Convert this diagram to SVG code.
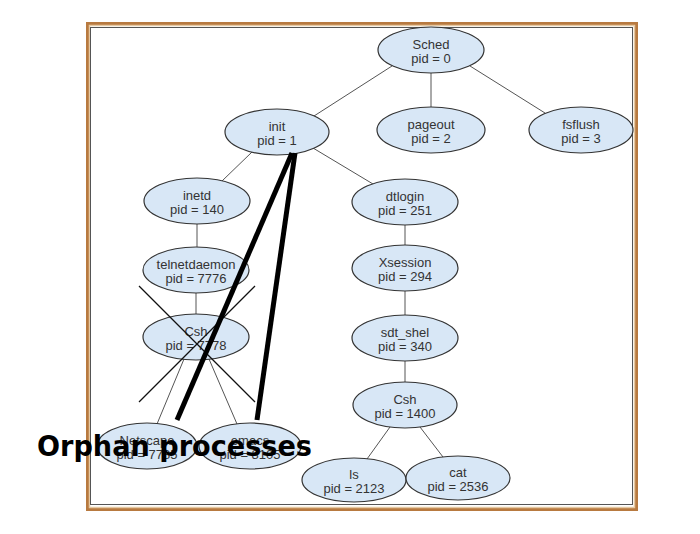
<svg xmlns="http://www.w3.org/2000/svg" width="700" height="534" viewBox="0 0 700 534">
<style>
.n ellipse{fill:#d8e7f6;stroke:#333;stroke-width:1.2}
.n text{font-family:"Liberation Sans",Arial,sans-serif;font-size:13px;fill:#333;text-anchor:middle}
#connectors line{stroke:#555;stroke-width:1}
.cross line{stroke:#111;stroke-width:1.3}
.thick line{stroke:#000;stroke-width:5;stroke-linecap:butt}
</style>
<rect width="700" height="534" fill="#fff"/>
<g id="frame" fill="none">
<rect x="87.5" y="23.5" width="549" height="486" stroke="#b87a40" stroke-width="3"/>
<rect x="89.5" y="25.5" width="545" height="482" stroke="#e6c9a2" stroke-width="1.5"/>
<rect x="90.5" y="27.5" width="542" height="477" stroke="#555" stroke-width="1"/>
</g>
<g id="connectors">
<line x1="392" y1="66" x2="314" y2="116"/>
<line x1="431" y1="73" x2="431" y2="107"/>
<line x1="470" y1="66" x2="545" y2="113"/>
<line x1="252" y1="152" x2="222" y2="181"/>
<line x1="313" y1="148" x2="373" y2="184"/>
<line x1="197" y1="224" x2="197" y2="247"/>
<line x1="196" y1="293" x2="196" y2="314"/>
<line x1="184" y1="359" x2="157" y2="424"/>
<line x1="209" y1="359" x2="237" y2="424"/>
<line x1="405" y1="225" x2="405" y2="245"/>
<line x1="405" y1="291" x2="405" y2="315"/>
<line x1="405" y1="361" x2="405" y2="382"/>
<line x1="390" y1="427" x2="367" y2="459"/>
<line x1="420" y1="427" x2="443" y2="457"/>
</g>
<g id="sched" class="n"><ellipse cx="431" cy="50" rx="53" ry="23"/><text x="431" y="49">Sched</text><text x="431" y="63">pid = 0</text></g>
<g id="init" class="n"><ellipse cx="277" cy="132" rx="52" ry="23"/><text x="277" y="131">init</text><text x="277" y="145">pid = 1</text></g>
<g id="pageout" class="n"><ellipse cx="431" cy="130" rx="54" ry="23"/><text x="431" y="129">pageout</text><text x="431" y="143">pid = 2</text></g>
<g id="fsflush" class="n"><ellipse cx="581" cy="130" rx="52" ry="23"/><text x="581" y="129">fsflush</text><text x="581" y="143">pid = 3</text></g>
<g id="inetd" class="n"><ellipse cx="197" cy="201" rx="53" ry="23"/><text x="197" y="200">inetd</text><text x="197" y="214">pid = 140</text></g>
<g id="dtlogin" class="n"><ellipse cx="405" cy="202" rx="53" ry="23"/><text x="405" y="201">dtlogin</text><text x="405" y="215">pid = 251</text></g>
<g id="telnetdaemon" class="n"><ellipse cx="196" cy="270" rx="53" ry="23"/><text x="196" y="269">telnetdaemon</text><text x="196" y="283">pid = 7776</text></g>
<g id="xsession" class="n"><ellipse cx="405" cy="268" rx="53" ry="23"/><text x="405" y="267">Xsession</text><text x="405" y="281">pid = 294</text></g>
<g id="csh7778" class="n"><ellipse cx="196" cy="337" rx="53" ry="23"/><text x="196" y="336">Csh</text><text x="196" y="350">pid = 7778</text></g>
<g id="sdt_shel" class="n"><ellipse cx="405" cy="338" rx="53" ry="23"/><text x="405" y="337">sdt_shel</text><text x="405" y="351">pid = 340</text></g>
<g id="csh1400" class="n"><ellipse cx="405" cy="405" rx="52" ry="23"/><text x="405" y="404">Csh</text><text x="405" y="418">pid = 1400</text></g>
<g id="netscape" class="n"><ellipse cx="147" cy="446" rx="50" ry="23"/><text x="147" y="445">Netscape</text><text x="147" y="459">pid = 7785</text></g>
<g id="emacs" class="n"><ellipse cx="250" cy="446" rx="51" ry="23"/><text x="250" y="445">emacs</text><text x="250" y="459">pid = 8105</text></g>
<g id="ls" class="n"><ellipse cx="354" cy="480" rx="52" ry="22"/><text x="354" y="479">ls</text><text x="354" y="493">pid = 2123</text></g>
<g id="cat" class="n"><ellipse cx="458" cy="478" rx="52" ry="22"/><text x="458" y="477">cat</text><text x="458" y="491">pid = 2536</text></g>
<g id="cross" class="cross">
<line x1="139" y1="286" x2="255" y2="402"/>
<line x1="255" y1="286" x2="139" y2="402"/>
</g>
<g id="orphan-lines" class="thick">
<line x1="292" y1="153" x2="177" y2="420"/>
<line x1="295" y1="153" x2="257" y2="420"/>
</g>
<text id="orphan-label" x="37" y="456" font-family="'DejaVu Sans',Verdana,sans-serif" font-weight="bold" font-size="28" textLength="275" lengthAdjust="spacingAndGlyphs" fill="#000">Orphan processes</text>
</svg>
